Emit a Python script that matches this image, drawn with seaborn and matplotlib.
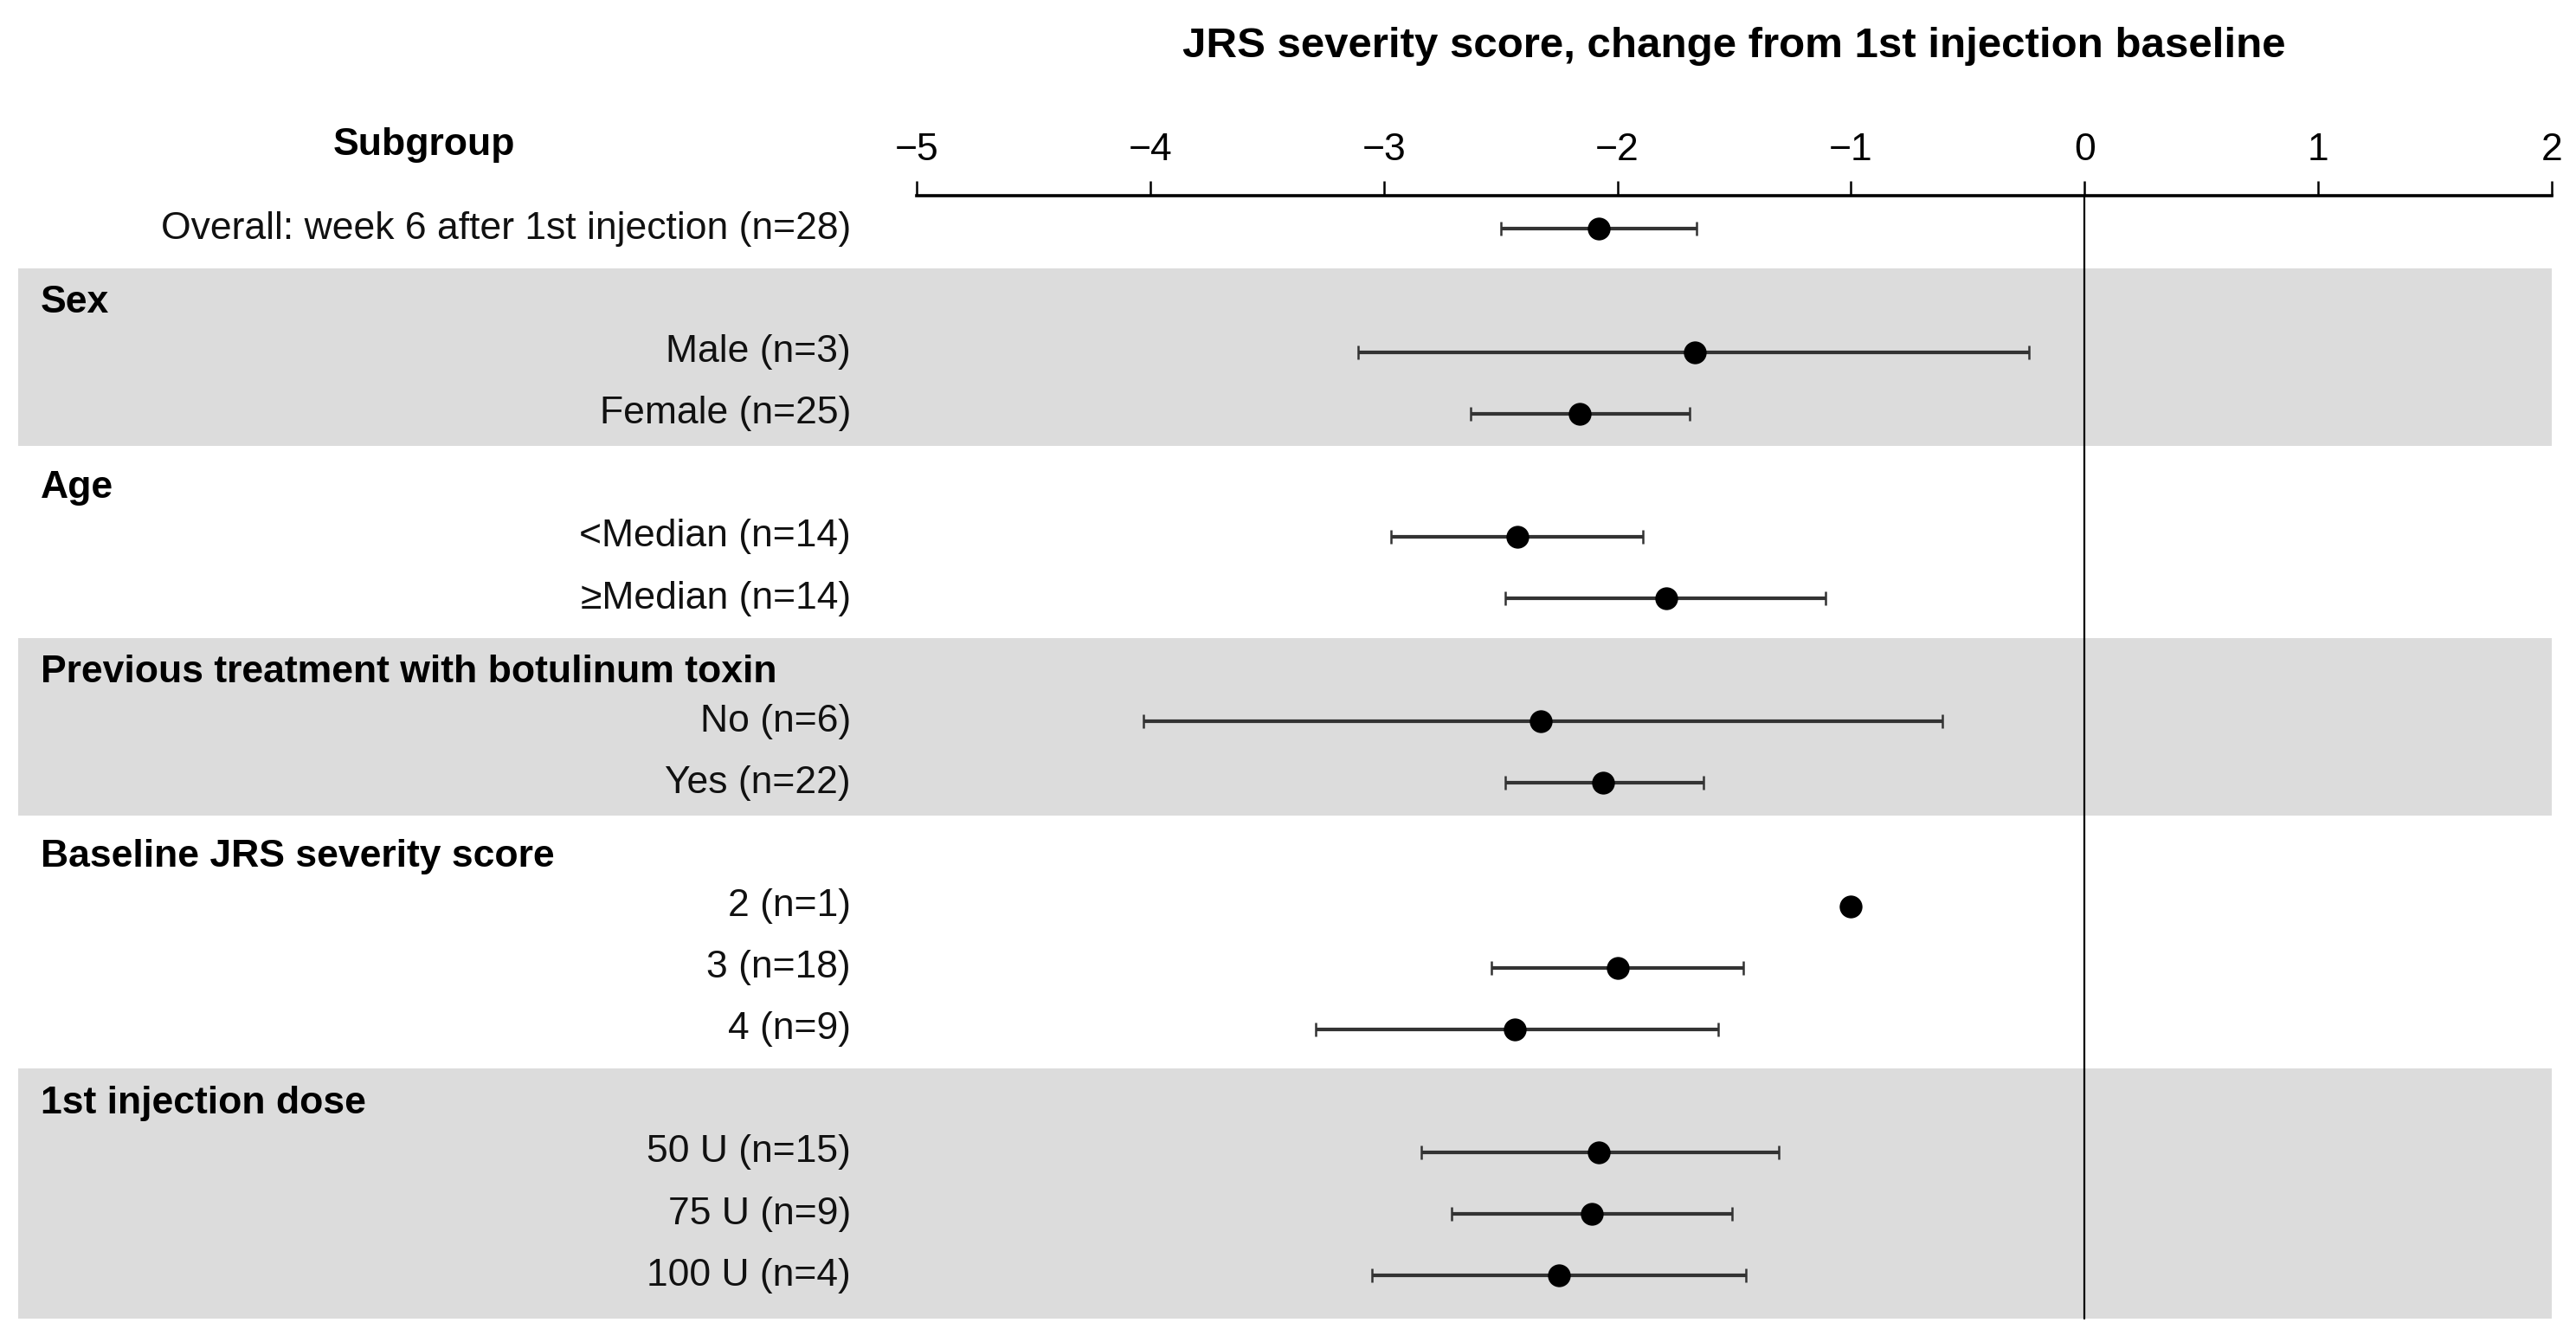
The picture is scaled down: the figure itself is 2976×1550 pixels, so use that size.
import numpy as np
import pandas as pd
import matplotlib
matplotlib.use("Agg")
import matplotlib.pyplot as plt
import matplotlib.transforms as mtransforms
from matplotlib.patches import Rectangle
import seaborn as sns

# ---------------- data ----------------
title_text = "JRS severity score, change from 1st injection baseline"
subgroup_header = "Subgroup"

overall_label = "Overall: week 6 after 1st injection (n=28)"
overall_mean = -2.08
overall_lo = -2.50
overall_hi = -1.66

group_names = ["Sex", "Age", "Previous treatment with botulinum toxin",
               "Baseline JRS severity score", "1st injection dose"]

sex_labels = ["Male (n=3)", "Female (n=25)"]
sex_mean = [-1.67, -2.16]
sex_lo = [-3.11, -2.63]
sex_hi = [-0.24, -1.69]

age_labels = ["<Median (n=14)", "\u2265Median (n=14)"]
age_mean = [-2.43, -1.79]
age_lo = [-2.97, -2.48]
age_hi = [-1.89, -1.11]

prev_labels = ["No (n=6)", "Yes (n=22)"]
prev_mean = [-2.33, -2.06]
prev_lo = [-4.03, -2.48]
prev_hi = [-0.61, -1.63]

base_labels = ["2 (n=1)", "3 (n=18)", "4 (n=9)"]
base_mean = [-1.00, -2.00, -2.44]
base_lo = [np.nan, -2.54, -3.29]
base_hi = [np.nan, -1.46, -1.57]

dose_labels = ["50 U (n=15)", "75 U (n=9)", "100 U (n=4)"]
dose_mean = [-2.08, -2.11, -2.25]
dose_lo = [-2.84, -2.71, -3.05]
dose_hi = [-1.31, -1.51, -1.45]

x_ticks = [-5, -4, -3, -2, -1, 0, 1, 2]

group_items = [
    (sex_labels, sex_mean, sex_lo, sex_hi),
    (age_labels, age_mean, age_lo, age_hi),
    (prev_labels, prev_mean, prev_lo, prev_hi),
    (base_labels, base_mean, base_lo, base_hi),
    (dose_labels, dose_mean, dose_lo, dose_hi),
]
shaded_groups = [0, 2, 4]

# ---------------- layout (row slots from group structure) ----------------
rows = [dict(label=overall_label, mean=overall_mean, lo=overall_lo, hi=overall_hi,
             y=0.0, group=-1)]
headers = []   # (name, slot)
slot = 0
for gi, (gname, (labs, means, los, his)) in enumerate(zip(group_names, group_items)):
    slot += 1
    headers.append((gname, slot))
    for lab, m, lo, hi in zip(labs, means, los, his):
        slot += 1
        rows.append(dict(label=lab, mean=m, lo=lo, hi=hi, y=float(slot), group=gi))
df = pd.DataFrame(rows)
group_last = [df.loc[df["group"] == gi, "y"].max() for gi in range(len(group_names))]

# ---------------- figure ----------------
W, H = 2976, 1550
DPI = 100
sns.set_theme(style="white")
plt.rcParams["font.family"] = ["Liberation Sans", "DejaVu Sans"]
plt.rcParams["axes.unicode_minus"] = True
FS = 32

fig = plt.figure(figsize=(W / DPI, H / DPI), dpi=DPI)
fig.patch.set_facecolor("white")

ax_left = 1059 / W
ax_right = 2948 / W
ax_top = 1 - 226 / H
ax = fig.add_axes([ax_left, 0.0, ax_right - ax_left, ax_top])
ax.set_facecolor("none")
y_top, y_bot = -0.54, 18.08
ax.set_xlim(-5, 2)
ax.set_ylim(y_bot, y_top)

trans = mtransforms.blended_transform_factory(fig.transFigure, ax.transData)

# shaded bands
band_color = "#dcdcdc"
band_bottom_last = None
for gi in shaded_groups:
    gname, hslot = headers[gi]
    top = hslot - 0.36
    bottom = group_last[gi] + (0.53 if gi + 1 < len(headers) else 0.7)
    band_bottom_last = bottom
    ax.add_patch(Rectangle((21 / W, top), ax_right - 21 / W, bottom - top,
                           transform=trans, facecolor=band_color, edgecolor="none",
                           clip_on=False, zorder=0))

# reference line at 0
ax.plot([0, 0], [y_top, band_bottom_last], color="black", lw=1.6, zorder=1, clip_on=False)

# error bars
sub = df[df["lo"].notna()]
ax.errorbar(sub["mean"], sub["y"],
            xerr=[sub["mean"] - sub["lo"], sub["hi"] - sub["mean"]],
            fmt="none", ecolor="#333333", elinewidth=3.0, capsize=6, capthick=1.8,
            zorder=2)
# point estimates
sns.scatterplot(data=df, x="mean", y="y", ax=ax, color="black", s=360,
                marker="o", edgecolor="black", linewidth=0, zorder=3, legend=False)

# axis styling
for side in ["left", "right", "bottom"]:
    ax.spines[side].set_visible(False)
ax.spines["top"].set_visible(True)
ax.spines["top"].set_linewidth(2.6)
ax.spines["top"].set_color("black")
ax.xaxis.set_ticks_position("top")
ax.xaxis.set_label_position("top")
ax.set_xticks(x_ticks)
ax.set_xticklabels([f"{t}".replace("-", "\u2212") for t in x_ticks])
ax.tick_params(axis="x", direction="out", length=12, width=1.8, color="black",
               labelsize=FS, pad=11, labelcolor="black")
ax.set_yticks([])
ax.set_xlabel("")
ax.set_ylabel("")

# row labels
label_x = 983 / W
for _, r in df.iterrows():
    ax.text(label_x, r["y"], r["label"], transform=trans, ha="right", va="center",
            fontsize=FS, color="#111111")
# group headers (sit slightly below their slot)
for gname, hslot in headers:
    ax.text(47 / W, hslot + 0.2, gname, transform=trans, ha="left", va="center",
            fontsize=FS, fontweight="bold", color="black")

# titles
fig.text((ax_left + ax_right) / 2, 1 - 54 / H, title_text, ha="center", va="center",
         fontsize=35.5, fontweight="bold", color="black")
fig.text(490 / W, 1 - 168 / H, subgroup_header, ha="center", va="center",
         fontsize=FS, fontweight="bold", color="black")

fig.savefig("out.png", dpi=DPI, facecolor="white")
